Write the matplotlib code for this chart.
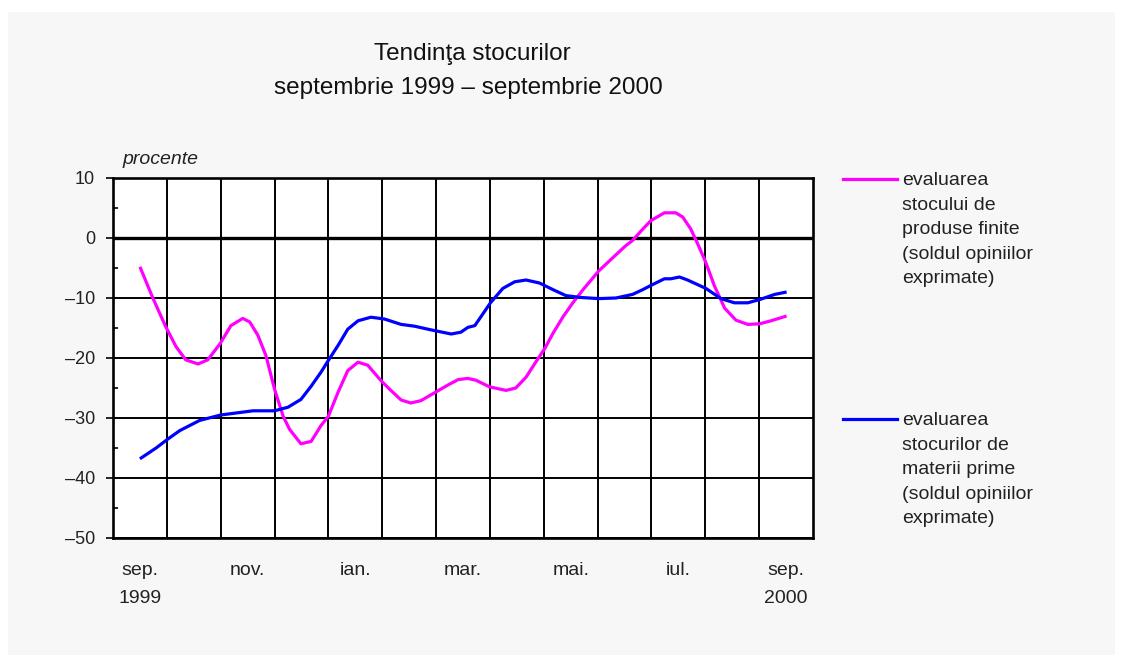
import matplotlib.pyplot as plt
from matplotlib.patches import Rectangle
from matplotlib.lines import Line2D
from matplotlib.ticker import MultipleLocator, FixedLocator

plt.rcParams['font.family'] = ['Liberation Sans', 'DejaVu Sans']

# luni: 0 = sep. 1999 ... 12 = sep. 2000
month_ticks = [0, 2, 4, 6, 8, 10, 12]
month_labels = ["sep.\n1999", "nov.", "ian.", "mar.", "mai.", "iul.", "sep.\n2000"]

# evaluarea stocului de produse finite
fin_t = [0.0, 0.24, 0.48, 0.67, 0.85, 1.08, 1.26, 1.49, 1.69, 1.91, 2.04, 2.19,
         2.34, 2.5, 2.66, 2.78, 2.99, 3.18, 3.36, 3.5, 3.68, 3.86, 4.05, 4.23,
         4.48, 4.66, 4.85, 5.03, 5.22, 5.49, 5.72, 5.91, 6.09, 6.24, 6.49, 6.8,
         6.98, 7.17, 7.35, 7.52, 7.67, 7.86, 8.04, 8.23, 8.52, 8.78, 9.02, 9.15,
         9.34, 9.49, 9.74, 9.95, 10.08, 10.23, 10.36, 10.51, 10.67, 10.86, 11.07,
         11.29, 11.51, 11.72, 12.01]
fin_v = [-4.8, -10.0, -14.8, -18.1, -20.3, -21.0, -20.3, -17.6, -14.6, -13.4, -14.0, -16.2,
         -19.6, -25.2, -29.7, -31.9, -34.3, -33.9, -31.3, -29.7, -25.7, -22.1, -20.7, -21.2,
         -23.8, -25.4, -27.0, -27.5, -27.1, -25.7, -24.5, -23.6, -23.4, -23.7, -24.8, -25.4,
         -25.0, -23.2, -20.7, -18.4, -15.9, -13.1, -10.8, -8.6, -5.5, -3.3, -1.3, -0.4,
         1.5, 2.9, 4.2, 4.2, 3.5, 1.5, -1.0, -4.1, -8.0, -11.7, -13.7,
         -14.4, -14.3, -13.8, -13.0]

# evaluarea stocurilor de materii prime
raw_t = [0.0, 0.3, 0.52, 0.74, 1.11, 1.5, 2.1, 2.5, 2.75, 2.99, 3.18, 3.36,
         3.5, 3.68, 3.86, 4.05, 4.29, 4.54, 4.85, 5.1, 5.4, 5.78, 5.96, 6.09,
         6.22, 6.51, 6.74, 6.96, 7.17, 7.42, 7.67, 7.91, 8.17, 8.52, 8.84, 9.15,
         9.34, 9.49, 9.74, 9.86, 10.02, 10.17, 10.51, 10.79, 11.04, 11.29, 11.53,
         11.79, 12.01]
raw_v = [-36.8, -35.0, -33.5, -32.1, -30.4, -29.5, -28.8, -28.8, -28.2, -26.9, -24.7, -22.4,
         -20.4, -17.9, -15.2, -13.8, -13.2, -13.5, -14.4, -14.7, -15.3, -16.0, -15.7, -14.9,
         -14.6, -10.8, -8.4, -7.3, -7.0, -7.5, -8.6, -9.6, -9.9, -10.1, -10.0, -9.4,
         -8.6, -7.9, -6.8, -6.8, -6.5, -7.0, -8.4, -10.1, -10.8, -10.8, -10.2,
         -9.4, -9.0]

legend_fin = "evaluarea\nstocului de\nproduse finite\n(soldul opiniilor\nexprimate)"
legend_raw = "evaluarea\nstocurilor de\nmaterii prime\n(soldul opiniilor\nexprimate)"

W, H = 1123, 667
fig = plt.figure(figsize=(W / 100, H / 100), dpi=100)
fig.patch.set_facecolor('white')
fig.add_artist(Rectangle((8 / W, 1 - 655 / H), 1107 / W, 643 / H, transform=fig.transFigure,
                         facecolor='#f7f7f7', edgecolor='none', zorder=-10))

ax = fig.add_axes([113 / W, 1 - 538 / H, 700 / W, 360 / H])
ax.set_facecolor('white')
ax.set_xlim(-0.5, 12.5)
ax.set_ylim(-50, 10)

ax.plot(fin_t, fin_v, color='#ff00ff', lw=2.3, zorder=4, solid_capstyle='butt')
ax.plot(raw_t, raw_v, color='#0000ff', lw=2.3, zorder=4, solid_capstyle='butt')
ax.axhline(0, color='black', lw=2.4, zorder=3)

ax.yaxis.set_minor_locator(MultipleLocator(5))
yt = [-50, -40, -30, -20, -10, 0, 10]
ax.set_yticks(yt)
ax.set_yticklabels([str(v).replace('-', '\u2013') for v in yt])
ax.xaxis.set_major_locator(FixedLocator(month_ticks))
ax.xaxis.set_minor_locator(FixedLocator([k + 0.5 for k in range(12)]))
ax.set_xticklabels(month_labels)
for lbl in ax.get_xticklabels():
    lbl.set_linespacing(1.9)

ax.grid(True, which='major', axis='y', color='black', lw=1.4, zorder=2)
ax.grid(True, which='minor', axis='x', color='black', lw=1.4, zorder=2)
ax.set_axisbelow(True)

ax.tick_params(axis='y', which='major', direction='out', length=5, width=1.2,
               pad=8, labelsize=13, labelcolor='#222222')
ax.tick_params(axis='y', which='minor', direction='in', length=3.5, width=1.2)
ax.tick_params(axis='x', which='both', length=0, pad=17, labelsize=14, labelcolor='#222222')
for s in ax.spines.values():
    s.set_linewidth(1.9)
    s.set_color('black')

fig.text(472 / W, 1 - 54 / H, "Tendinţa stocurilor", ha='center', va='center',
         fontsize=17.5, color='#111111')
fig.text(468 / W, 1 - 88 / H, "septembrie 1999 \u2013 septembrie 2000", ha='center',
         va='center', fontsize=17.5, color='#111111')
fig.text(122 / W, 1 - 159 / H, "procente", ha='left', va='center', fontsize=14,
         style='italic', color='#222222')

fig.add_artist(Line2D([843 / W, 897 / W], [1 - 179 / H] * 2, color='#ff00ff', lw=2.3))
fig.add_artist(Line2D([843 / W, 897 / W], [1 - 419 / H] * 2, color='#0000ff', lw=2.3))
fig.text(902 / W, 1 - 172 / H, legend_fin, ha='left', va='top', fontsize=14,
         linespacing=1.58, color='#222222')
fig.text(902 / W, 1 - 412 / H, legend_raw, ha='left', va='top', fontsize=14,
         linespacing=1.58, color='#222222')

fig.savefig('out.png', dpi=100, facecolor=fig.get_facecolor())
